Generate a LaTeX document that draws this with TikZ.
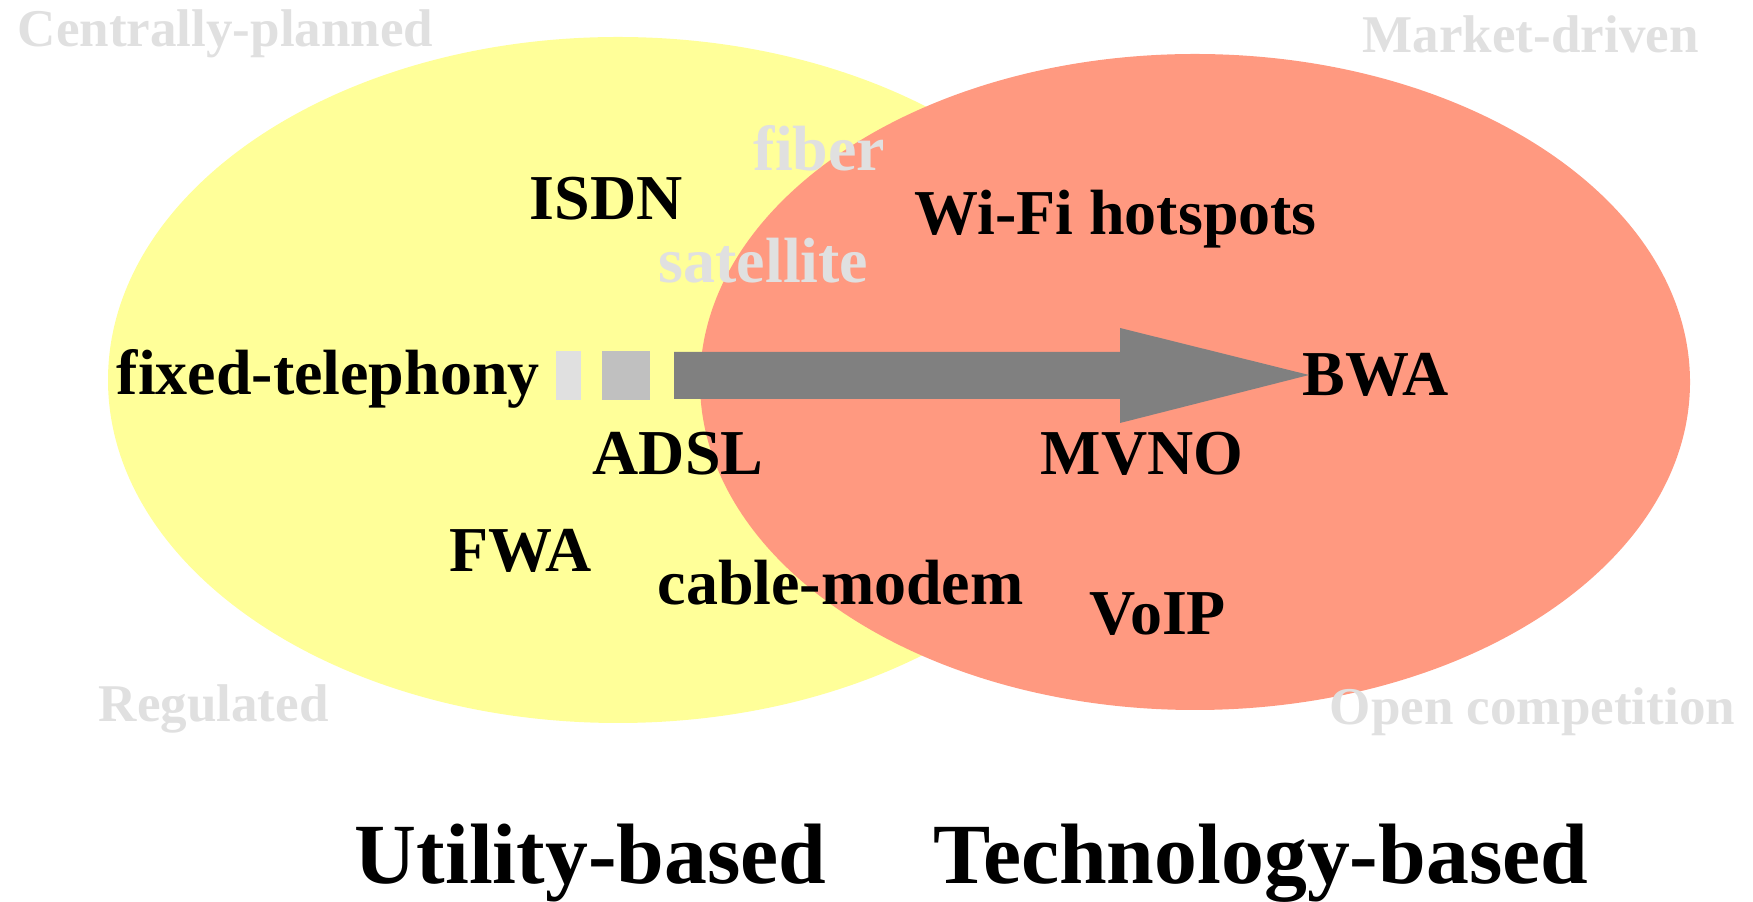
\documentclass[tikz,border=0pt]{standalone}
\usepackage{fontspec}
\setmainfont{Liberation Serif}
\usepackage{tikz}
\definecolor{utilyellow}{HTML}{FFFF99}
\definecolor{techsalmon}{HTML}{FF9980}
\definecolor{faintgray}{HTML}{E0E0E0}
\definecolor{midgray}{HTML}{C0C0C0}
\definecolor{arrowgray}{HTML}{808080}
\tikzset{
	tech/.style={anchor=base west, inner sep=0pt, font=\fontsize{18.2}{20}\selectfont\bfseries},
	faint/.style={tech, text=faintgray},
	corner/.style={anchor=base west, inner sep=0pt, text=faintgray, font=\fontsize{15.1}{17}\selectfont\bfseries},
	heading/.style={anchor=base west, inner sep=0pt, font=\fontsize{24.4}{26}\selectfont\bfseries}
}

\begin{document}
\begin{tikzpicture}
			%%%%% START %%%%%
			\useasboundingbox (0, 0) rectangle (17.53, 9.01);
			
			\fill[utilyellow] (6.18, 5.21) ellipse (5.10 and 3.43);
			\fill[techsalmon] (11.95, 5.19) ellipse (4.95 and 3.28);
			
			\node[corner] (planned) at (0.17, 8.54) {Centrally-planned};
			\node[corner] (market) at (13.62, 8.48) {Market-driven};
			\node[corner] (regulated) at (0.98, 1.79) {Regulated};
			\node[corner] (open) at (13.29, 1.76) {Open competition};
			
			\node[faint] (fiber) at (7.53, 7.30) {fiber};
			\node[faint] (satellite) at (6.58, 6.18) {satellite};
			
			\node[tech] (isdn) at (5.29, 6.81) {ISDN};
			\node[tech] (wifi) at (9.14, 6.66) {Wi-Fi hotspots};
			\node[tech] (fixed) at (1.16, 5.06) {fixed-telephony};
			\node[tech] (bwa) at (13.02, 5.05) {BWA};
			\node[tech] (adsl) at (5.92, 4.26) {ADSL};
			\node[tech] (mvno) at (10.40, 4.26) {MVNO};
			\node[tech] (fwa) at (4.49, 3.29) {FWA};
			\node[tech] (cable) at (6.57, 2.96) {cable-modem};
			\node[tech] (voip) at (10.89, 2.66) {VoIP};
			
			\fill[faintgray] (5.56, 5.01) rectangle (5.81, 5.50);
			\fill[midgray] (6.02, 5.01) rectangle (6.50, 5.50);
			\fill[arrowgray] (6.74, 5.02) -- (6.74, 5.49) -- (11.20, 5.49) -- (11.20, 5.73)
				-- (13.09, 5.26) -- (11.20, 4.78) -- (11.20, 5.02) -- cycle;
			
			\node[heading] (utility) at (3.54, 0.18) {Utility-based};
			\node[heading] (technology) at (9.33, 0.18) {Technology-based};
			
			%%%%% END %%%%%
		\end{tikzpicture}
\end{document}
